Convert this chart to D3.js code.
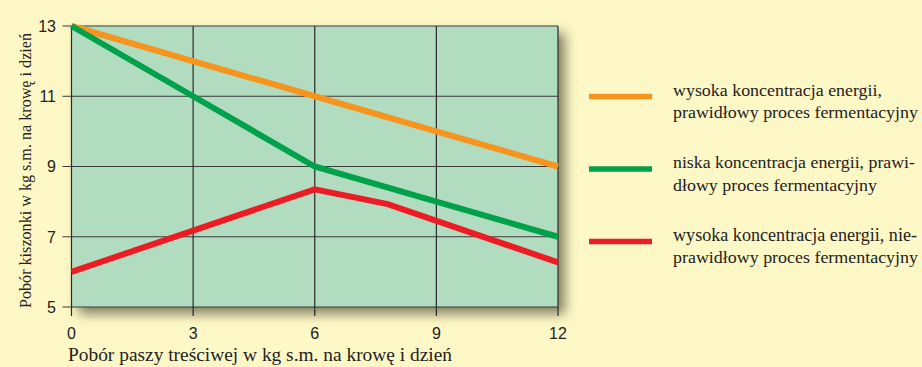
<!DOCTYPE html>
<html><head><meta charset="utf-8">
<script src="https://cdn.jsdelivr.net/npm/d3@7"></script>
<style>html,body{margin:0;padding:0;background:#fef8c6;}</style>
</head><body>
<svg id="c" width="922" height="367"></svg>
<script>
const xTicks = [0, 3, 6, 9, 12];
const yTicks = [5, 7, 9, 11, 13];
const seriesNames = [
  ["wysoka koncentracja energii,", "prawidłowy proces fermentacyjny"],
  ["niska koncentracja energii, prawi-", "dłowy proces fermentacyjny"],
  ["wysoka koncentracja energii, nie-", "prawidłowy proces fermentacyjny"]
];
const seriesColors = ["#f7941d", "#00a14b", "#ed1c24"];
const orangeX = [0, 6, 12];
const orangeY = [13, 11, 9];
const greenX = [0, 3, 6, 9, 12];
const greenY = [13, 11, 9, 8, 7];
const redX = [0, 6, 7.8, 12];
const redY = [6, 8.35, 7.93, 6.27];
const xTitle = "Pobór paszy treściwej w kg s.m. na krowę i dzień";
const yTitle = "Pobór kiszonki w kg s.m. na krowę i dzień";

const series = [
  orangeX.map((x, i) => [x, orangeY[i]]),
  greenX.map((x, i) => [x, greenY[i]]),
  redX.map((x, i) => [x, redY[i]])
];

const SERIF = "'Liberation Serif', 'Times New Roman', serif";
const SANS = "'Liberation Sans', Arial, sans-serif";

const svg = d3.select("#c");
const L = 71.5, R = 558, T = 26, B = 307;
const x = d3.scaleLinear().domain([0, 12]).range([L, R]);
const y = d3.scaleLinear().domain([5, 13]).range([B, T]);

// fit text to a target width: shrink font until natural width fits, then set exact length
function fit(sel, w) {
  sel.each(function () {
    const t = d3.select(this);
    let fs = +t.attr("font-size");
    while (this.getComputedTextLength() > w && fs > 8) {
      fs -= 0.25;
      t.attr("font-size", fs);
    }
    t.attr("textLength", w).attr("lengthAdjust", "spacingAndGlyphs");
  });
}

const defs = svg.append("defs");
const f = defs.append("filter").attr("id", "sh").attr("x", "-5%").attr("y", "-5%").attr("width", "115%").attr("height", "125%");
f.append("feDropShadow").attr("dx", 7).attr("dy", 7).attr("stdDeviation", 6).attr("flood-color", "#5a5a40").attr("flood-opacity", 0.75);

svg.append("rect").attr("x", L).attr("y", T).attr("width", R - L).attr("height", B - T)
  .attr("fill", "#b2dcc0").attr("filter", "url(#sh)");

// grid
svg.append("g").selectAll("line").data(yTicks).join("line")
  .attr("x1", L - 9).attr("x2", R).attr("y1", d => y(d)).attr("y2", d => y(d))
  .attr("stroke", "#3a3a3a").attr("stroke-width", 1.2);
svg.append("g").selectAll("line").data(xTicks).join("line")
  .attr("x1", d => x(d)).attr("x2", d => x(d)).attr("y1", T).attr("y2", B + 9)
  .attr("stroke", "#2a2a2a").attr("stroke-width", 1.2);

// tick labels
svg.append("g").selectAll("text").data(yTicks).join("text")
  .attr("x", 56).attr("y", d => y(d)).attr("dy", "0.36em").attr("text-anchor", "end")
  .attr("font-family", SANS).attr("font-size", 16).attr("fill", "#222")
  .text(d => d);
svg.append("g").selectAll("text").data(xTicks).join("text")
  .attr("x", d => x(d)).attr("y", 339).attr("text-anchor", "middle")
  .attr("font-family", SANS).attr("font-size", 16).attr("fill", "#222")
  .text(d => d);

// titles
svg.append("text").attr("x", 68).attr("y", 361)
  .attr("font-family", SERIF).attr("font-size", 20).attr("fill", "#222")
  .text(xTitle).call(fit, 384);
svg.append("text").attr("transform", "translate(31,308) rotate(-90)")
  .attr("font-family", SERIF).attr("font-size", 20).attr("fill", "#222")
  .text(yTitle).call(fit, 275);

// lines
const line = d3.line().x(d => x(d[0])).y(d => y(d[1]));
svg.append("g").selectAll("path").data(series).join("path")
  .attr("d", line).attr("fill", "none")
  .attr("stroke", (d, i) => seriesColors[i]).attr("stroke-width", 6)
  .attr("stroke-linejoin", "miter");

// legend
const legY = [96.5, 169, 241.5];
const legW = [[209, 245], [242, 204], [244, 245]];
const lg = svg.append("g").selectAll("g").data(seriesNames).join("g")
  .attr("transform", (d, i) => "translate(0," + legY[i] + ")");
lg.append("line").attr("x1", 589).attr("x2", 652).attr("y1", 0).attr("y2", 0)
  .attr("stroke", (d, i) => seriesColors[i]).attr("stroke-width", 5.5);
lg.each(function (d, i) {
  const g = d3.select(this);
  g.append("text").attr("x", 673).attr("y", -1)
    .attr("font-family", SERIF).attr("font-size", 20).attr("fill", "#222")
    .text(d[0]).call(fit, legW[i][0]);
  g.append("text").attr("x", 673).attr("y", 21.5)
    .attr("font-family", SERIF).attr("font-size", 20).attr("fill", "#222")
    .text(d[1]).call(fit, legW[i][1]);
});
</script>
</body></html>
